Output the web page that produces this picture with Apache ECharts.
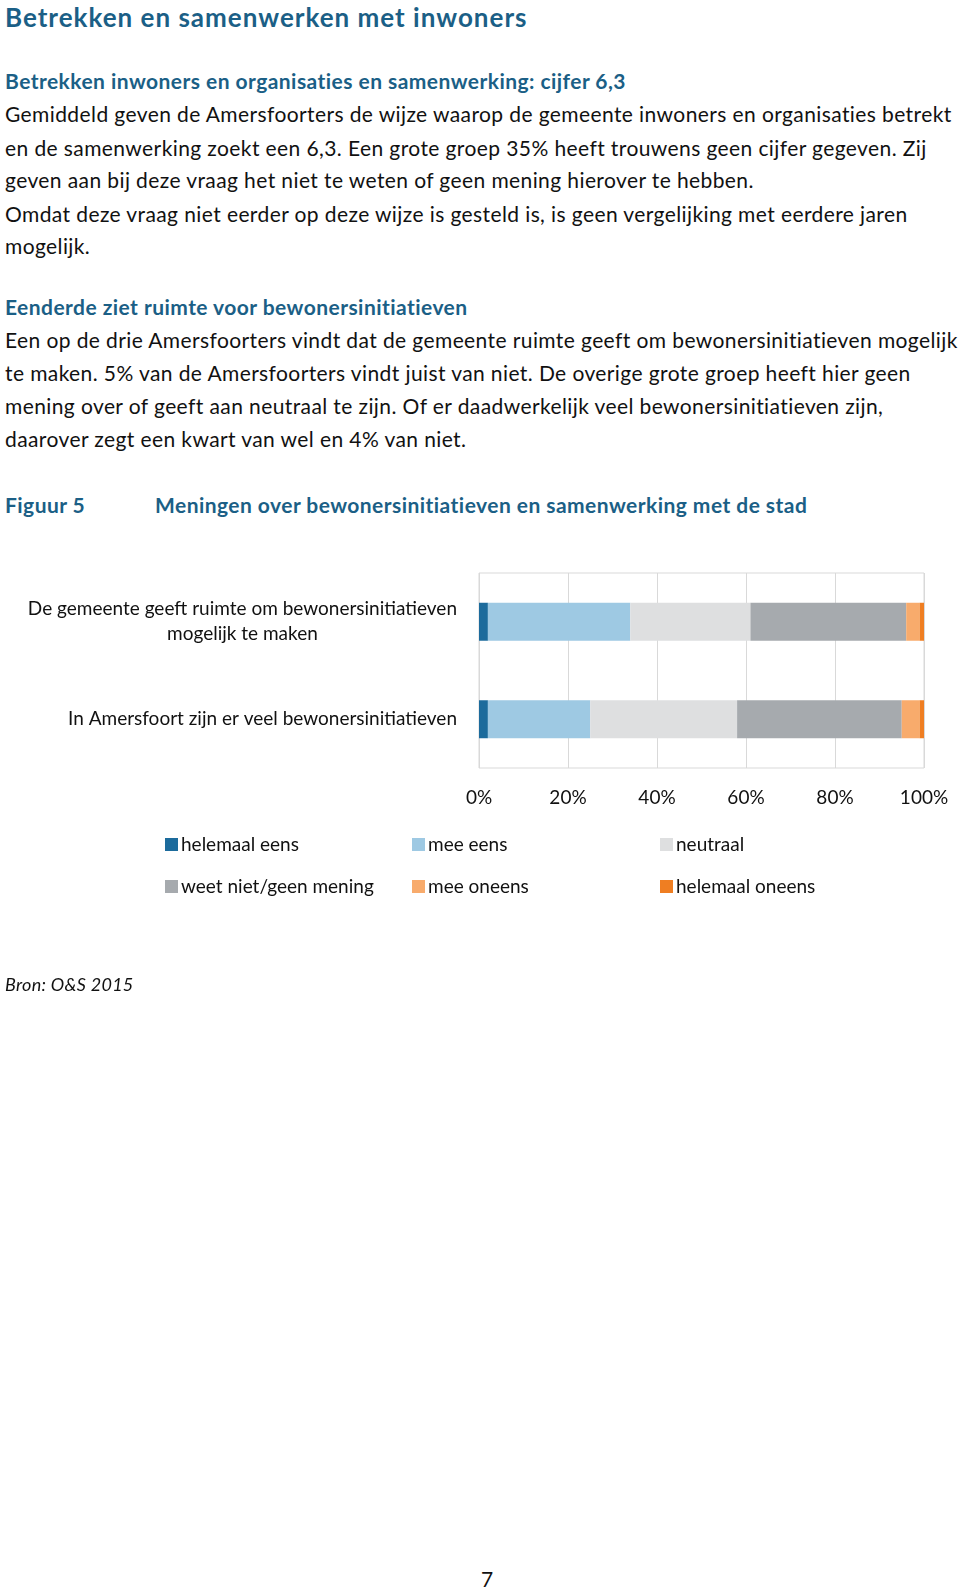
<!DOCTYPE html>
<html>
<head>
<meta charset="utf-8">
<script src="https://cdn.jsdelivr.net/npm/echarts@6/dist/echarts.min.js"></script>
<style>
  html, body { margin: 0; padding: 0; background: #fff; }
  body { width: 960px; height: 1589px; position: relative; font-family: Lato, "Noto Sans", sans-serif; color: #111; }
  .t { position: absolute; white-space: nowrap; font-size: 21px; line-height: 24px; left: 5px; letter-spacing: 0.4px; }
  .h { color: #1b5f86; font-weight: bold; letter-spacing: 0.45px; }
  #chart { position: absolute; left: 0; top: 540px; width: 960px; height: 460px; }
</style>
</head>
<body>
<div class="t h" style="top:1px;font-size:26px;line-height:32px;letter-spacing:1px;">Betrekken en samenwerken met inwoners</div>
<div class="t h" style="top:69px;">Betrekken inwoners en organisaties en samenwerking: cijfer 6,3</div>
<div class="t" style="top:102px;">Gemiddeld geven de Amersfoorters de wijze waarop de gemeente inwoners en organisaties betrekt</div>
<div class="t" style="top:136px;">en de samenwerking zoekt een 6,3. Een grote groep 35% heeft trouwens geen cijfer gegeven. Zij</div>
<div class="t" style="top:168px;">geven aan bij deze vraag het niet te weten of geen mening hierover te hebben.</div>
<div class="t" style="top:202px;">Omdat deze vraag niet eerder op deze wijze is gesteld is, is geen vergelijking met eerdere jaren</div>
<div class="t" style="top:234px;">mogelijk.</div>
<div class="t h" style="top:295px;">Eenderde ziet ruimte voor bewonersinitiatieven</div>
<div class="t" style="top:328px;">Een op de drie Amersfoorters vindt dat de gemeente ruimte geeft om bewonersinitiatieven mogelijk</div>
<div class="t" style="top:361px;">te maken. 5% van de Amersfoorters vindt juist van niet. De overige grote groep heeft hier geen</div>
<div class="t" style="top:394px;">mening over of geeft aan neutraal te zijn. Of er daadwerkelijk veel bewonersinitiatieven zijn,</div>
<div class="t" style="top:427px;">daarover zegt een kwart van wel en 4% van niet.</div>
<div class="t h" style="top:493px;">Figuur 5</div>
<div class="t h" style="top:493px;left:155px;">Meningen over bewonersinitiatieven en samenwerking met de stad</div>
<div id="chart"></div>
<div class="t" style="top:973px;font-size:18px;line-height:22px;letter-spacing:0.3px;font-style:italic;">Bron: O&amp;S 2015</div>
<div class="t" style="top:1567px;left:481px;">7</div>

<script>
// data
const categories = [
  'De gemeente geeft ruimte om bewonersinitiatieven\nmogelijk te maken',
  'In Amersfoort zijn er veel bewonersinitiatieven'
];
const seriesNames = ['helemaal eens', 'mee eens', 'neutraal', 'weet niet/geen mening', 'mee oneens', 'helemaal oneens'];
const helemaalEens = [2, 2];
const meeEens = [32, 23];
const neutraal = [27, 33];
const weetNiet = [35, 37];
const meeOneens = [3, 4];
const helemaalOneens = [1, 1];
const tickLabels = ['0%', '20%', '40%', '60%', '80%', '100%'];

const colors = ['#1c6b9c', '#9ec9e3', '#dedfe0', '#a6aaae', '#f8ab6c', '#ef7e22'];
const values = [helemaalEens, meeEens, neutraal, weetNiet, meeOneens, helemaalOneens];

const chart = echarts.init(document.getElementById('chart'));

// y-axis categories are listed bottom-up in echarts
const yCats = categories.slice().reverse();

const series = seriesNames.map((name, i) => ({
  name: name,
  type: 'bar',
  stack: 'total',
  barWidth: 38,
  itemStyle: { color: colors[i] },
  data: values[i].slice().reverse()
}));

const legendPos = [[165, 295], [412, 295], [660, 295], [165, 337], [412, 337], [660, 337]];
const legends = seriesNames.map((name, i) => ({
  data: [name],
  left: legendPos[i][0],
  top: legendPos[i][1],
  orient: 'horizontal',
  itemWidth: 13,
  itemHeight: 13,
  itemGap: 0,
  icon: 'rect',
  padding: 0,
  selectedMode: false,
  textStyle: { fontFamily: 'Lato', fontSize: 19, color: '#111', padding: [0, 0, 0, -2] }
}));

const option = {
  animation: false,
  color: colors,
  grid: {
    left: 479,
    right: 36,
    top: 33,
    bottom: 232,
    show: true,
    borderColor: '#d9d9d9',
    borderWidth: 1
  },
  legend: legends,
  xAxis: {
    type: 'value',
    min: 0,
    max: 100,
    interval: 20,
    axisLine: { show: false },
    axisTick: { show: false },
    splitLine: { show: true, lineStyle: { color: '#d9d9d9', width: 1 } },
    axisLabel: {
      margin: 20,
      fontFamily: 'Lato',
      fontSize: 19,
      color: '#111',
      formatter: v => tickLabels[v / 20]
    }
  },
  yAxis: {
    type: 'category',
    data: yCats,
    axisLine: { show: false },
    axisTick: { show: false },
    axisLabel: {
      margin: 22,
      align: 'right',
      fontFamily: 'Lato',
      fontSize: 19,
      lineHeight: 25,
      color: '#111',
      formatter: v => v.split('\n').map(s => '{c|' + s + '}').join('\n'),
      rich: {
        c: { align: 'center', fontFamily: 'Lato', fontSize: 19, lineHeight: 25, height: 25, color: '#111' }
      }
    }
  },
  series: series
};

chart.setOption(option);

window.addEventListener('resize', _ => {
  chart.resize();
});
</script>
</body>
</html>
